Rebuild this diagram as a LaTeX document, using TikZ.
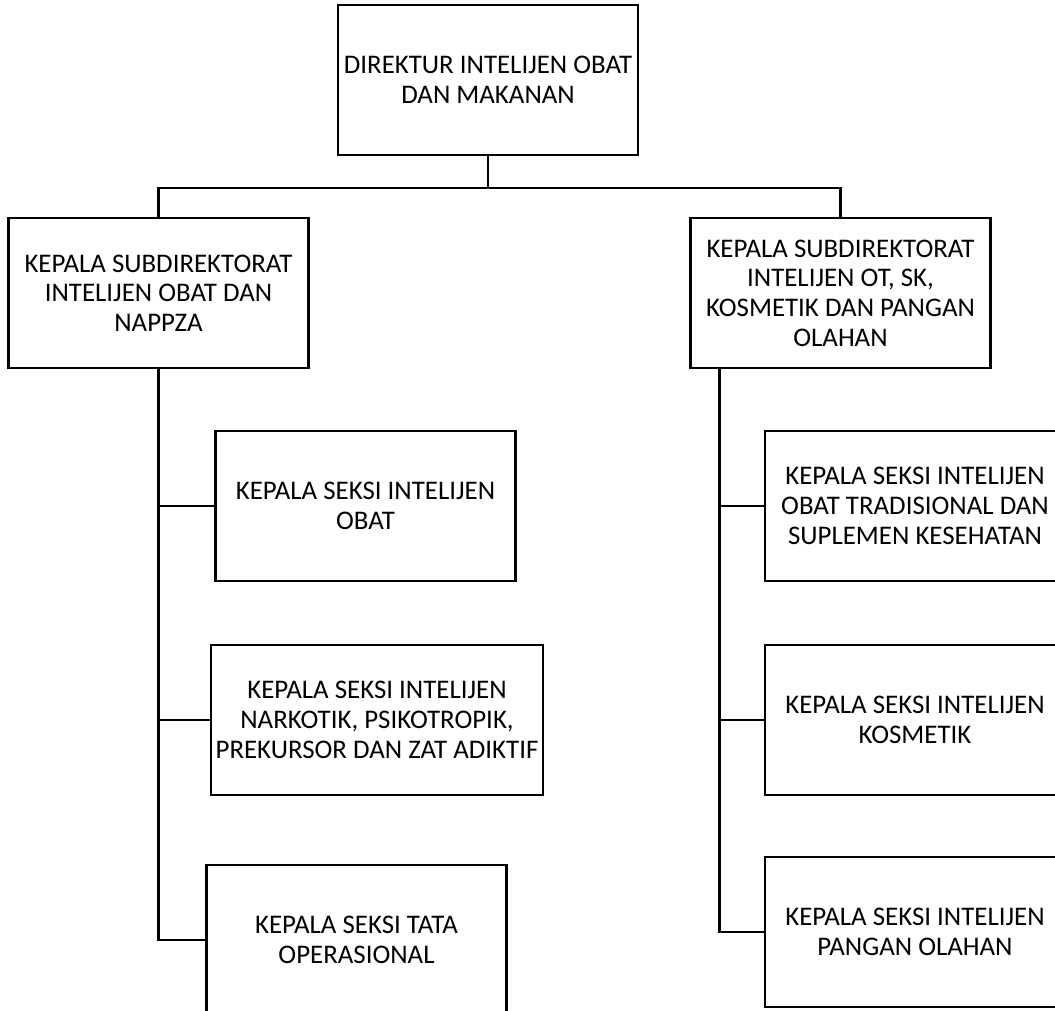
\documentclass[tikz,border=0pt]{standalone}
\usepackage{fontspec}
\setmainfont{Carlito}
\tikzset{
  unit/.style={draw, line width=1.6pt, minimum width=6cm, minimum height=3cm,
    inner sep=0pt, align=center, font=\fontsize{15.3}{16.9}\selectfont},
  link/.style={line width=1.6pt}
}
\begin{document}
\begin{tikzpicture}[x=0.02cm, y=-0.02cm]
        \clip (0,0) rectangle (1055,1011);
        \node[unit] (dir) at (488,80) {DIREKTUR INTELIJEN OBAT\\DAN MAKANAN};
        \node[unit] (subA) at (158.5,293) {KEPALA SUBDIREKTORAT\\INTELIJEN OBAT DAN\\NAPPZA};
        \node[unit] (subB) at (840.5,293) {KEPALA SUBDIREKTORAT\\INTELIJEN OT, SK,\\KOSMETIK DAN PANGAN\\OLAHAN};
        \node[unit] (obat) at (365.5,506) {KEPALA SEKSI INTELIJEN\\OBAT};
        \node[unit, minimum width=6.64cm] (napza) at (377,720) {KEPALA SEKSI INTELIJEN\\NARKOTIK, PSIKOTROPIK,\\PREKURSOR DAN ZAT ADIKTIF};
        \node[unit] (tata) at (356.5,940) {KEPALA SEKSI TATA\\OPERASIONAL};
        \node[unit] (otsk) at (915,506) {KEPALA SEKSI INTELIJEN\\OBAT TRADISIONAL DAN\\SUPLEMEN KESEHATAN};
        \node[unit] (kos) at (915,720) {KEPALA SEKSI INTELIJEN\\KOSMETIK};
        \node[unit] (pangan) at (915,932) {KEPALA SEKSI INTELIJEN\\PANGAN OLAHAN};
        \coordinate (hub) at (488,188);
        \coordinate (tapB) at ([xshift=0.6cm]subB.south west);

        \draw[link] (dir) -- (hub) -| (subA);
        \draw[link] (hub) -| (subB);
        \draw[link] (subA.south) |- (obat.west);
        \draw[link] (subA.south) |- (napza.west);
        \draw[link] (subA.south) |- (tata.west);
        \draw[link] (tapB) |- (otsk.west);
        \draw[link] (tapB) |- (kos.west);
        \draw[link] (tapB) |- (pangan.west);
      \end{tikzpicture}
\end{document}
